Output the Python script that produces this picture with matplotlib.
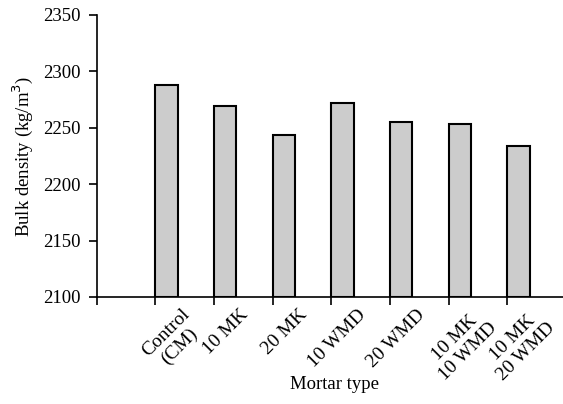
import matplotlib.pyplot as plt

plt.rcParams["font.family"] = ["Liberation Serif", "DejaVu Serif"]

mortar_types = ["Control\n(CM)", "10 MK", "20 MK", "10 WMD", "20 WMD",
                "10 MK\n10 WMD", "10 MK\n20 WMD"]
bulk_density = [2288, 2269, 2244, 2272, 2255, 2253, 2234]

fig = plt.figure(figsize=(5.63, 4.04), dpi=100)
ax = fig.add_axes([0.172, 0.265, 0.828, 0.698])

pos = list(range(1, len(mortar_types) + 1))
ax.bar(pos, [v - 2100 for v in bulk_density], bottom=2100, width=0.38,
       align="edge", color="#cccccc", edgecolor="black", linewidth=1.5)

ax.set_ylim(2100, 2350)
ax.set_yticks(range(2100, 2351, 50))
ax.set_xlim(0, 7.95)
ax.set_xticks(range(0, 8))
ax.set_xticklabels([""] * 8)
# category labels sit near the middle between tick marks
for p, lab in zip(pos, mortar_types):
    ax.annotate(lab, xy=(p + 0.44, 2100), xycoords="data",
                xytext=(0, -6.5), textcoords="offset points",
                rotation=45, ha="right", va="top", rotation_mode="anchor",
                multialignment="center", fontsize=14, linespacing=1.15)

for s in ["top", "right"]:
    ax.spines[s].set_visible(False)
for s in ["left", "bottom"]:
    ax.spines[s].set_linewidth(1.2)
ax.tick_params(axis="both", direction="out", width=1.2, length=6, pad=6,
               labelsize=13.5)

ax.set_ylabel("Bulk density (kg/m$^3$)", fontsize=13.5)
ax.yaxis.set_label_coords(-0.133, 0.5)
ax.set_xlabel("Mortar type", fontsize=13.5)
ax.xaxis.set_label_coords(0.51, -0.282)

fig.savefig("out.png", dpi=100)
